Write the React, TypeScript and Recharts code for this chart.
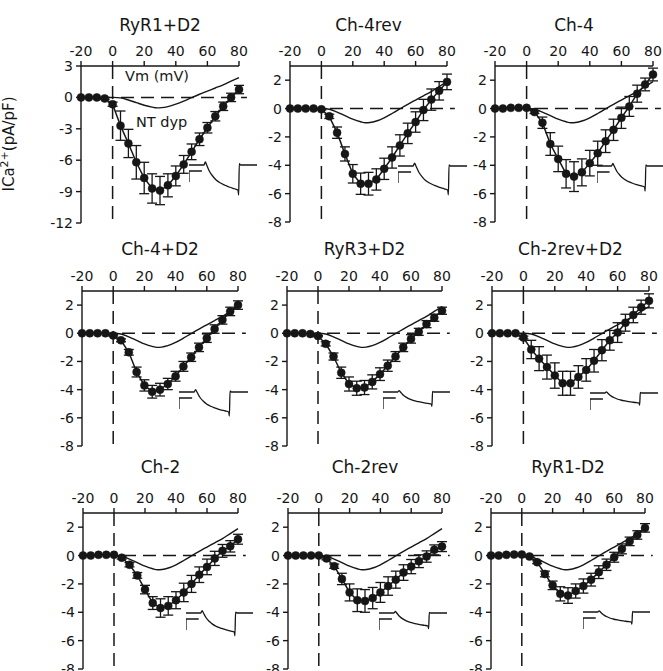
import React from "react";
import { ComposedChart, LineChart, Line, XAxis, YAxis, ReferenceLine, ErrorBar } from "recharts";

// test potentials (mV), shared by every panel
const voltages = [-20, -15, -10, -5, 0, 5, 10, 15, 20, 25, 30, 35, 40, 45, 50, 55, 60, 65, 70, 75, 80];
const xTicks = [-20, 0, 20, 40, 60, 80];
const yTicksWide = [-12, -9, -6, -3, 0, 3];
const yTicksNarrow = [-8, -6, -4, -2, 0, 2];

// mean ICa (pA/pF) and SEM per construct
const ryr1D2Mean = [0, 0, 0, -0.1, -0.65, -2.7, -4.4, -6.2, -7.7, -8.7, -8.9, -8.4, -7.5, -6.4, -5.2, -4.0, -2.9, -1.8, -0.85, 0.0, 0.75];
const ryr1D2Sem = [0, 0, 0, 0.1, 0.2, 1.4, 1.35, 1.6, 1.5, 1.4, 1.35, 1.1, 0.95, 0.85, 0.75, 0.6, 0.5, 0.45, 0.4, 0.4, 0.4];

const ch4revMean = [0, 0, 0, 0, -0.05, -0.55, -1.7, -3.2, -4.6, -5.3, -5.3, -5.0, -4.25, -3.45, -2.6, -1.75, -0.95, -0.1, 0.63, 1.25, 1.88];
const ch4revSem = [0, 0, 0, 0, 0.05, 0.15, 0.4, 0.5, 0.65, 0.75, 0.8, 0.75, 0.75, 0.75, 0.75, 0.72, 0.72, 0.75, 0.75, 0.65, 0.55];

const ch4Mean = [0, 0, 0.05, 0.05, 0.05, -0.25, -1.0, -2.5, -3.55, -4.6, -4.8, -4.5, -3.85, -3.15, -2.3, -1.5, -0.65, 0.15, 1.05, 1.7, 2.4];
const ch4Sem = [0, 0, 0, 0, 0, 0.1, 0.4, 0.8, 0.9, 1.0, 1.05, 0.95, 0.9, 0.85, 0.8, 0.75, 0.75, 0.7, 0.6, 0.45, 0.45];

const ch4D2Mean = [0, 0, 0, 0, -0.15, -0.5, -1.35, -2.75, -3.7, -4.15, -4.0, -3.6, -3.05, -2.35, -1.7, -1.0, -0.35, 0.3, 0.95, 1.55, 2.0];
const ch4D2Sem = [0, 0, 0, 0, 0.05, 0.1, 0.2, 0.35, 0.4, 0.45, 0.45, 0.4, 0.35, 0.35, 0.3, 0.3, 0.3, 0.3, 0.3, 0.3, 0.3];

const ryr3D2Mean = [0, 0, 0, -0.05, -0.2, -0.75, -1.65, -2.8, -3.6, -3.9, -3.85, -3.45, -2.9, -2.3, -1.65, -1.0, -0.4, 0.1, 0.65, 1.1, 1.6];
const ryr3D2Sem = [0, 0, 0, 0, 0.05, 0.15, 0.25, 0.4, 0.5, 0.5, 0.5, 0.5, 0.45, 0.4, 0.35, 0.3, 0.3, 0.25, 0.25, 0.25, 0.25];

const ch2revD2Mean = [0, 0, 0, 0, -0.3, -1.15, -1.8, -2.4, -3.0, -3.55, -3.55, -3.1, -2.6, -1.95, -1.2, -0.5, 0.05, 0.75, 1.3, 1.85, 2.3];
const ch2revD2Sem = [0, 0, 0, 0, 0.1, 0.65, 0.85, 0.85, 0.9, 0.85, 0.85, 0.8, 0.8, 0.8, 0.75, 0.7, 0.7, 0.6, 0.55, 0.5, 0.5];

const ch2Mean = [0, 0, 0.05, 0.05, 0.05, -0.15, -0.65, -1.4, -2.4, -3.35, -3.7, -3.55, -3.15, -2.6, -2.0, -1.35, -0.8, -0.2, 0.33, 0.65, 1.15];
const ch2Sem = [0, 0, 0, 0, 0, 0.1, 0.15, 0.2, 0.3, 0.45, 0.65, 0.65, 0.6, 0.65, 0.6, 0.55, 0.55, 0.5, 0.45, 0.4, 0.35];

const ch2revMean = [0, 0, 0, 0, 0, -0.2, -0.75, -1.65, -2.6, -3.15, -3.2, -3.0, -2.6, -2.15, -1.7, -1.2, -0.78, -0.4, -0.07, 0.4, 0.63];
const ch2revSem = [0, 0, 0, 0, 0, 0.1, 0.15, 0.4, 0.6, 0.8, 0.8, 0.75, 0.7, 0.65, 0.6, 0.55, 0.5, 0.45, 0.4, 0.35, 0.35];

const ryr1NoD2Mean = [0, 0, 0.05, 0.07, 0.07, -0.07, -0.47, -1.3, -2.1, -2.7, -2.82, -2.5, -2.15, -1.7, -1.17, -0.65, -0.12, 0.47, 1.0, 1.45, 1.95];
const ryr1NoD2Sem = [0, 0, 0, 0, 0, 0.05, 0.1, 0.2, 0.3, 0.5, 0.55, 0.5, 0.5, 0.45, 0.45, 0.4, 0.35, 0.35, 0.3, 0.3, 0.3];

// normalized NT dyp I-V curve (thin line, same in every panel)
const ntDypVm = [0, 5, 10, 15, 20, 25, 28, 31, 35, 40, 45, 50, 55, 60, 65, 70, 75, 80];
const ntDypCurrent = [0, -0.05, -0.25, -0.5, -0.75, -0.93, -1.0, -0.98, -0.88, -0.65, -0.35, -0.02, 0.3, 0.6, 0.9, 1.2, 1.55, 1.9];

// example current trace (normalized: 0 = holding, -1 = end of pulse) and voltage step marker (px below baseline)
const traceTime = [0, 22, 24, 26, 30, 35, 40, 45, 53, 60, 67, 72, 73, 74, 76, 100];
const traceCurrent = [0, 0, 0.12, 0, -0.25, -0.45, -0.6, -0.7, -0.81, -0.89, -0.95, -1.0, -1.2, 0.05, 0, 0];
const stepTime = [0, 0, 19];
const stepLevel = [-17, -6, -6];

const INK = "#161616";
const FONT = "'DejaVu Sans', sans-serif";

type PanelCfg = {
  title: string;
  mean: number[];
  sem: number[];
  yMin: number;
  yTicks: number[];
  left: number;
  top: number;
  width: number;
  height: number;
  titleY: number;
  trace: { left: number; baseline: number; width: number; depth: number };
};

const panels: PanelCfg[] = [
  { title: "RyR1+D2", mean: ryr1D2Mean, sem: ryr1D2Sem, yMin: -12, yTicks: yTicksWide, left: 81, top: 66, width: 158, height: 157, titleY: 25, trace: { left: 189, baseline: 165, width: 68, depth: 25 } },
  { title: "Ch-4rev", mean: ch4revMean, sem: ch4revSem, yMin: -8, yTicks: yTicksNarrow, left: 290, top: 66, width: 157, height: 156, titleY: 25, trace: { left: 398, baseline: 166, width: 69, depth: 24 } },
  { title: "Ch-4", mean: ch4Mean, sem: ch4Sem, yMin: -8, yTicks: yTicksNarrow, left: 495, top: 66, width: 158, height: 156, titleY: 25, trace: { left: 597, baseline: 166, width: 66, depth: 21 } },
  { title: "Ch-4+D2", mean: ch4D2Mean, sem: ch4D2Sem, yMin: -8, yTicks: yTicksNarrow, left: 82, top: 291, width: 156, height: 155, titleY: 249, trace: { left: 179, baseline: 392, width: 69, depth: 20 } },
  { title: "RyR3+D2", mean: ryr3D2Mean, sem: ryr3D2Sem, yMin: -8, yTicks: yTicksNarrow, left: 287, top: 291, width: 155, height: 155, titleY: 249, trace: { left: 383, baseline: 392, width: 67, depth: 12 } },
  { title: "Ch-2rev+D2", mean: ch2revD2Mean, sem: ch2revD2Sem, yMin: -8, yTicks: yTicksNarrow, left: 492, top: 291, width: 157, height: 155, titleY: 249, trace: { left: 590, baseline: 393, width: 68, depth: 10 } },
  { title: "Ch-2", mean: ch2Mean, sem: ch2Sem, yMin: -8, yTicks: yTicksNarrow, left: 83, top: 513, width: 155, height: 156, titleY: 467, trace: { left: 186, baseline: 613, width: 67, depth: 19 } },
  { title: "Ch-2rev", mean: ch2revMean, sem: ch2revSem, yMin: -8, yTicks: yTicksNarrow, left: 288, top: 513, width: 154, height: 156, titleY: 467, trace: { left: 379, baseline: 613, width: 68, depth: 13 } },
  { title: "RyR1-D2", mean: ryr1NoD2Mean, sem: ryr1NoD2Sem, yMin: -8, yTicks: yTicksNarrow, left: 491, top: 513, width: 154, height: 156, titleY: 467, trace: { left: 583, baseline: 612, width: 67, depth: 10 } },
];

const ML = 52; // y axis width
const MT = 34; // top x axis height
const MR = 14;
const MB = 16;

function Panel({ p }: { p: PanelCfg }) {
  const data = voltages.map((v, i) => ({ v, mean: p.mean[i], sem: p.sem[i] }));
  const curve = ntDypVm.map((v, i) => ({ v, nt: ntDypCurrent[i] }));
  const tick = { fontSize: 14, fill: INK, fontFamily: FONT };

  return (
    <div style={{ position: "absolute", left: p.left - ML, top: p.top - MT }}>
      <ComposedChart
        width={p.width + ML + MR}
        height={p.height + MT + MB}
        margin={{ top: 0, right: MR, bottom: MB, left: 0 }}
        style={{ overflow: "visible" }}
      >
        <XAxis
          type="number"
          dataKey="v"
          orientation="top"
          domain={[-20, 80]}
          ticks={xTicks}
          interval={0}
          height={MT}
          tickSize={5}
          tickMargin={5}
          tick={tick}
          stroke={INK}
          strokeWidth={1.4}
        />
        <YAxis
          type="number"
          domain={[p.yMin, 3]}
          ticks={p.yTicks}
          interval={0}
          width={ML}
          tickSize={5}
          tickMargin={3}
          tick={tick}
          stroke={INK}
          strokeWidth={1.4}
        />
        <ReferenceLine
          segment={[{ x: -20, y: 0 }, { x: 85, y: 0 }]}
          ifOverflow="visible"
          stroke={INK}
          strokeWidth={1.5}
          strokeDasharray="13 7"
        />
        <ReferenceLine x={0} stroke={INK} strokeWidth={1.5} strokeDasharray="13 7" />
        <Line
          data={curve}
          dataKey="nt"
          type="monotone"
          stroke={INK}
          strokeWidth={1.4}
          dot={false}
          isAnimationActive={false}
        />
        <Line
          data={data}
          dataKey="mean"
          type="linear"
          stroke={INK}
          strokeWidth={1.5}
          dot={{ r: 4, fill: INK, stroke: INK, strokeWidth: 0.5 }}
          isAnimationActive={false}
        >
          <ErrorBar dataKey="sem" direction="y" width={5} stroke={INK} strokeWidth={1.3} />
        </Line>
      </ComposedChart>
    </div>
  );
}

function Trace({ t }: { t: PanelCfg["trace"] }) {
  const above = 4;
  const below = 34;
  const traceData = traceTime.map((x, i) => ({ t: x, i: traceCurrent[i] }));
  const stepData = stepTime.map((x, i) => ({ t: x, s: stepLevel[i] }));

  return (
    <div style={{ position: "absolute", left: t.left, top: t.baseline - above }}>
      <LineChart
        width={t.width}
        height={above + below}
        margin={{ top: 0, right: 0, bottom: 0, left: 0 }}
        style={{ overflow: "visible" }}
      >
        <XAxis hide type="number" dataKey="t" domain={[0, 100]} />
        <YAxis hide yAxisId="step" type="number" domain={[-below, above]} />
        <YAxis hide yAxisId="trace" type="number" domain={[-below / t.depth, above / t.depth]} />
        <Line yAxisId="step" data={stepData} dataKey="s" stroke={INK} strokeWidth={1.3} dot={false} isAnimationActive={false} />
        <Line yAxisId="trace" data={traceData} dataKey="i" type="monotone" stroke={INK} strokeWidth={1.3} dot={false} isAnimationActive={false} />
      </LineChart>
    </div>
  );
}

export default function App() {
  return (
    <div
      style={{
        position: "absolute",
        left: 0,
        top: 0,
        width: 663,
        height: 671,
        background: "#fff",
        overflow: "hidden",
        fontFamily: FONT,
        color: INK,
      }}
    >
      {panels.map((p) => (
        <React.Fragment key={p.title}>
          <Panel p={p} />
          <Trace t={p.trace} />
          <div
            style={{
              position: "absolute",
              left: p.left + p.width / 2 - 80,
              top: p.titleY - 11,
              width: 160,
              lineHeight: "22px",
              fontSize: 17,
              textAlign: "center",
            }}
          >
            {p.title}
          </div>
        </React.Fragment>
      ))}

      <div style={{ position: "absolute", left: 125, top: 67, fontSize: 14.5, lineHeight: "18px" }}>Vm (mV)</div>
      <div style={{ position: "absolute", left: 136, top: 113, fontSize: 14.5, lineHeight: "18px" }}>NT dyp</div>

      <div
        style={{
          position: "absolute",
          left: 9 - 70,
          top: 144 - 10,
          width: 140,
          lineHeight: "20px",
          fontSize: 15,
          textAlign: "center",
          transform: "rotate(-90deg)",
        }}
      >
        ICa<sup style={{ fontSize: 11, lineHeight: 0 }}>2+</sup>(pA/pF)
      </div>
    </div>
  );
}
